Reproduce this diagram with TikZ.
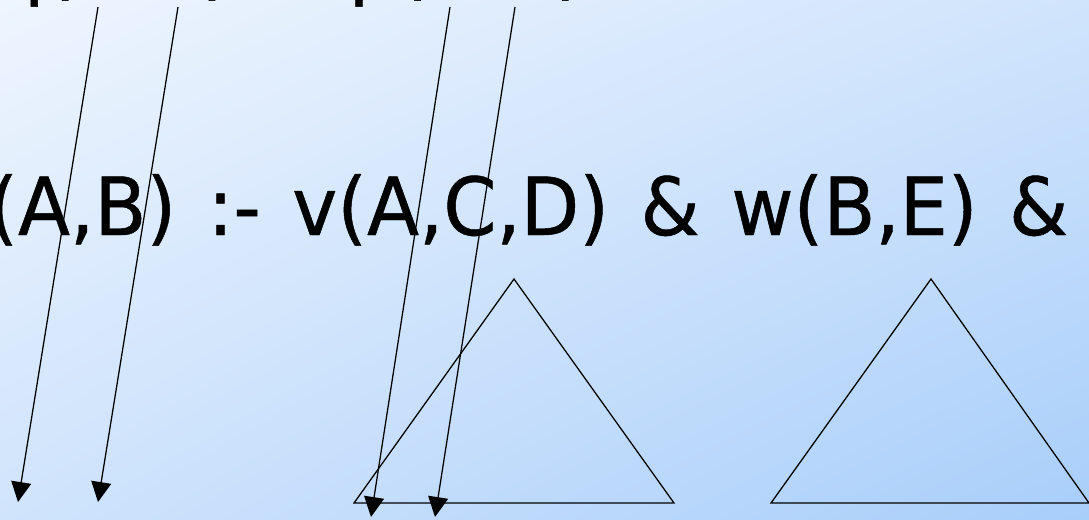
\documentclass[tikz,border=0pt]{standalone}
\usepackage{fontspec}
\newfontfamily\rulefont{DejaVu Sans}[FakeStretch=0.95,WordSpace=1.3,FakeBold=0.6]
\usetikzlibrary{arrows.meta,positioning,shadings}
\definecolor{slidetop}{RGB}{238,245,254}
\definecolor{slidemid}{RGB}{208,228,252}
\definecolor{slidebot}{RGB}{168,206,250}

\begin{document}
\begin{tikzpicture}[
  x=0.025cm, y=-0.025cm,
  rule/.style={
    font=\rulefont\fontsize{57}{68}\selectfont,
    inner sep=0pt,
    anchor=base west
  },
  maparrow/.style={
    line width=0.9pt,
    -{Triangle[width=0.5cm,length=0.5cm]}
  },
  tree/.style={
    line width=0.9pt,
    line join=miter
  }
]

% -------- Slide background --------
\useasboundingbox (0,0) rectangle (1089,519);
\clip (0,0) rectangle (1089,519);
\shade[upper left=slidetop, upper right=slidemid,
       lower left=slidemid, lower right=slidebot]
  (0,0) rectangle (1089,519);

% -------- Rules --------
\node[rule] (head) at (-4,-10) {q(A,B) :- p(A,C)};
\node[rule] (body) at (-12,235) {(A,B) :- v(A,C,D) \& w(B,E) \&};

% -------- Subtrees --------
\coordinate (vleft) at (354,503);
\coordinate (vtop) at (514,279);
\coordinate (vright) at (674,503);
\coordinate (wleft) at (771,503);
\coordinate (wtop) at (931,279);
\coordinate (wright) at (1089,503);
\draw[tree] (vleft) -- (vtop) -- (vright) -- cycle;
\draw[tree] (wleft) -- (wtop) -- (wright) -- cycle;

% -------- Variable mappings --------
\coordinate (a1) at (98,7);   \coordinate (a1end) at (18,502);
\coordinate (b1) at (178,7);  \coordinate (b1end) at (98,502);
\coordinate (a2) at (450,7);  \coordinate (a2end) at (371,517);
\coordinate (c2) at (515,7);  \coordinate (c2end) at (435,517);
\draw[maparrow] (a1) -- (a1end);
\draw[maparrow] (b1) -- (b1end);
\draw[maparrow] (a2) -- (a2end);
\draw[maparrow] (c2) -- (c2end);

\end{tikzpicture}
\end{document}
